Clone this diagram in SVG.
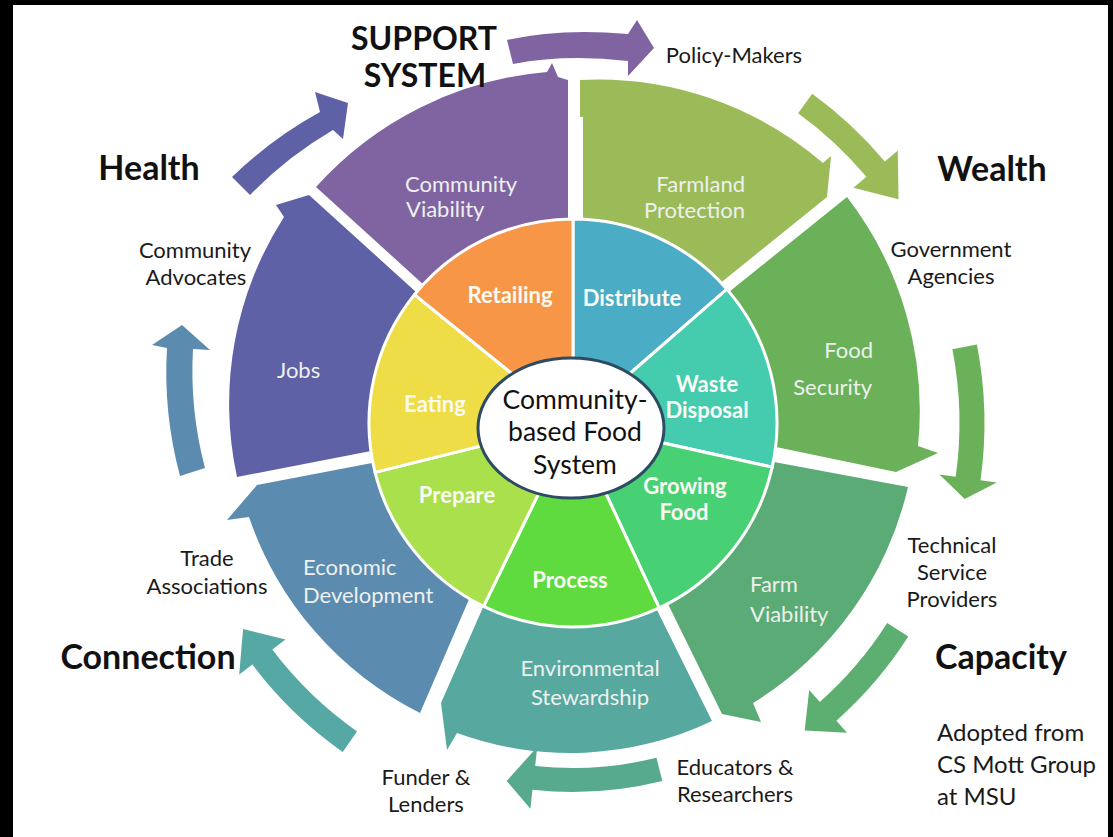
<svg xmlns="http://www.w3.org/2000/svg" width="1113" height="837" viewBox="0 0 1113 837">
<style>
.hd{font-family:Lato,"Liberation Sans",sans-serif;font-weight:700;font-size:34px;fill:#111;text-anchor:middle}
.sp{font-family:Lato,"Liberation Sans",sans-serif;font-weight:700;font-size:32px;fill:#111;text-anchor:middle}
.lb{font-family:Lato,"Liberation Sans",sans-serif;font-size:22px;fill:#1a1a1a;text-anchor:middle}
.sg{font-family:Lato,"Liberation Sans",sans-serif;font-size:22px;fill:#eef0ee}
.in{font-family:Lato,"Liberation Sans",sans-serif;font-weight:700;font-size:22px;fill:#fafaf2;text-anchor:middle}
.ct{font-family:Lato,"Liberation Sans",sans-serif;font-size:26.5px;fill:#111;text-anchor:middle}
.ad{font-family:Lato,"Liberation Sans",sans-serif;font-size:24px;fill:#1a1a1a}
.wd{stroke:#fff;stroke-width:3;stroke-linejoin:round}
</style>
<rect width="1113" height="837" fill="#fff"/>
<rect x="0" y="0" width="1113" height="5" fill="#000"/>
<rect x="0" y="0" width="13" height="837" fill="#000"/>
<rect x="1108" y="0" width="5" height="837" fill="#000"/>

<g id="connectors">
<path d="M507,40 Q560,28 628,34 L637,20 L654,48 L628,76 L628,61 Q566,54 513,64 Z" fill="#8064A2"/>
<path d="M812.2,93.7 A407,407 0 0 1 884.8,161.4 L897.8,150.5 L898.5,199.3 L853.4,187.7 L866.4,176.8 A383,383 0 0 0 798.1,113.2 Z" fill="#9BBB59"/>
<path d="M976.9,344.5 A411.5,411.5 0 0 1 980.5,480.3 L996.8,482.6 L964.7,499.1 L939.4,474.5 L955.7,476.8 A386.5,386.5 0 0 0 952.4,349.3 Z" fill="#6BB15A"/>
<path d="M908.3,636.6 A397.5,397.5 0 0 1 836.4,720.7 L847,732.7 L804.7,730.5 L809.2,690 L819.8,702 A372.5,372.5 0 0 0 887.2,623.1 Z" fill="#5CAF70"/>
<path d="M662.3,781 A369,369 0 0 1 532.5,789.8 L530.4,808.7 L506.7,780.9 L537.2,747 L535.2,765.9 A345,345 0 0 0 656.5,757.8 Z" fill="#58AA8E"/>
<path d="M342.7,751.9 A401.5,401.5 0 0 1 252.4,664.6 L239.2,674.6 L243.1,629.1 L285.5,639.6 L272.3,649.6 A376.5,376.5 0 0 0 357,731.4 Z" fill="#55A8A3"/>
<path d="M180,476 A400,400 0 0 1 167,348 L152,345 L182,325 L210,350 L193,349 A380,380 0 0 0 205,468 Z" fill="#5B8CB0"/>
<path d="M232,177 A410,410 0 0 1 320,112 L315,92 L348,103 L343,139 L333,130 A385,385 0 0 0 250,195 Z" fill="#5F61A6"/>
</g>

<g id="seg-community-viability">
<path d="M425,286 L316,187 A350,350 0 0 1 547,72 L552,63 L558,77 L568,80 L568,222 Z" fill="#8064A2"/>
<text class="sg" x="405" y="192">Community</text>
<text class="sg" x="406" y="217">Viability</text>
</g>
<g id="seg-farmland-protection">
<path d="M583,222 L583,117 L580,117 L580,80 A345,345 0 0 1 823,163 L831,156 L827,197 L718,285 Z" fill="#9BBB59"/>
<text class="sg" x="745" y="192" text-anchor="end">Farmland</text>
<text class="sg" x="745" y="218" text-anchor="end">Protection</text>
</g>
<g id="seg-food-security">
<path d="M729,292 L847,197 A350,350 0 0 1 918,446 L938,453 L896,472 L776,447 Z" fill="#6BB15A"/>
<text class="sg" x="873" y="358" text-anchor="end">Food</text>
<text class="sg" x="872" y="395" text-anchor="end">Security</text>
</g>
<g id="seg-farm-viability">
<path d="M774,462 L908,487 A345,345 0 0 1 753,703 L761,722 L722,714 L668,604 Z" fill="#5BAB76"/>
<text class="sg" x="750" y="592">Farm</text>
<text class="sg" x="750" y="622">Viability</text>
</g>
<g id="seg-environmental-stewardship">
<path d="M657,610 L712,721 A330,330 0 0 1 457,733 L447,750 L441,703 L484,605 Z" fill="#57A99F"/>
<text class="sg" x="590" y="676" text-anchor="middle">Environmental</text>
<text class="sg" x="590" y="705" text-anchor="middle">Stewardship</text>
</g>
<g id="seg-economic-development">
<path d="M470,597 L420,713 A343,343 0 0 1 249,517 L227,520 L257,485 L372,463 Z" fill="#5B8CB0"/>
<text class="sg" x="303" y="575">Economic</text>
<text class="sg" x="303" y="603">Development</text>
</g>
<g id="seg-jobs">
<path d="M371,451 L237,477 A345,345 0 0 1 284,217 L276,205 L309,195 L416,292 Z" fill="#5F61A6"/>
<text class="sg" x="277" y="378">Jobs</text>
</g>

<g id="inner-distribute">
<path class="wd" d="M573,423 L573,219 A204,204 0 0 1 726.96,289.16 Z" fill="#4BACC6"/>
<text class="in" x="632" y="306">Distribute</text>
</g>
<g id="inner-waste-disposal">
<path class="wd" d="M573,423 L726.96,289.16 A204,204 0 0 1 772.16,467.15 Z" fill="#45CBAE"/>
<text class="in" x="707" y="392">Waste</text>
<text class="in" x="707" y="418">Disposal</text>
</g>
<g id="inner-growing-food">
<path class="wd" d="M573,423 L772.16,467.15 A204,204 0 0 1 659.21,607.89 Z" fill="#48D074"/>
<text class="in" x="685" y="494">Growing</text>
<text class="in" x="684" y="520">Food</text>
</g>
<g id="inner-process">
<path class="wd" d="M573,423 L659.21,607.89 A204,204 0 0 1 483.57,606.36 Z" fill="#5FDB3F"/>
<text class="in" x="570" y="588">Process</text>
</g>
<g id="inner-prepare">
<path class="wd" d="M573,423 L483.57,606.36 A204,204 0 0 1 375.06,472.35 Z" fill="#A9E04B"/>
<text class="in" x="457" y="503">Prepare</text>
</g>
<g id="inner-eating">
<path class="wd" d="M573,423 L375.06,472.35 A204,204 0 0 1 414.47,294.62 Z" fill="#EEDD47"/>
<text class="in" x="435" y="412">Eating</text>
</g>
<g id="inner-retailing">
<path class="wd" d="M573,423 L414.47,294.62 A204,204 0 0 1 573,219 Z" fill="#F79646"/>
<text class="in" x="510" y="303">Retailing</text>
</g>

<g id="center">
<ellipse cx="571" cy="428" rx="93" ry="70" fill="#fff" stroke="#2E4B62" stroke-width="3"/>
<text class="ct" x="575" y="409">Community-</text>
<text class="ct" x="575" y="441">based Food</text>
<text class="ct" x="575" y="474">System</text>
</g>

<g id="labels">
<text class="sp" x="424" y="50">SUPPORT</text>
<text class="sp" x="425" y="87">SYSTEM</text>
<text class="hd" x="149" y="180">Health</text>
<text class="hd" x="992" y="181">Wealth</text>
<text class="hd" x="148" y="669">Connection</text>
<text class="hd" x="1001" y="669">Capacity</text>
<text class="lb" x="734" y="63">Policy-Makers</text>
<text class="lb" x="195" y="258">Community</text>
<text class="lb" x="196" y="285">Advocates</text>
<text class="lb" x="951" y="257">Government</text>
<text class="lb" x="951" y="284">Agencies</text>
<text class="lb" x="952" y="553">Technical</text>
<text class="lb" x="952" y="580">Service</text>
<text class="lb" x="952" y="607">Providers</text>
<text class="lb" x="207" y="566">Trade</text>
<text class="lb" x="207" y="594">Associations</text>
<text class="lb" x="426" y="785">Funder &amp;</text>
<text class="lb" x="426" y="812">Lenders</text>
<text class="lb" x="735" y="775">Educators &amp;</text>
<text class="lb" x="735" y="802">Researchers</text>
<text class="ad" x="937" y="741">Adopted from</text>
<text class="ad" x="937" y="773">CS Mott Group</text>
<text class="ad" x="937" y="805">at MSU</text>
</g>
</svg>
